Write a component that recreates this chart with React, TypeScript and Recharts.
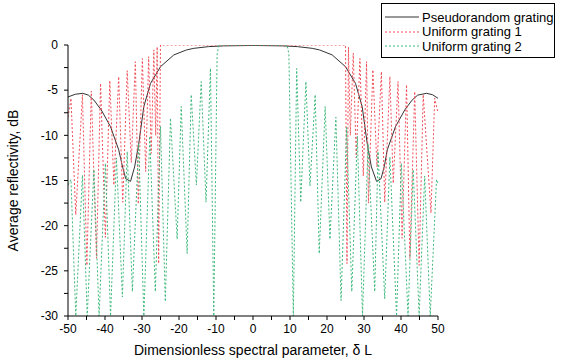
import { Label, Legend, Line, LineChart, XAxis, YAxis } from 'recharts';

// Chart size and fonts
const W = 562;
const H = 362;
const FONT = '"Liberation Sans", Arial, sans-serif';

// Axis ticks
const X_TICKS = [-50, -45, -40, -35, -30, -25, -20, -15, -10, -5, 0, 5, 10, 15, 20, 25, 30, 35, 40, 45, 50];
const Y_TICKS = [-30, -27.5, -25, -22.5, -20, -17.5, -15, -12.5, -10, -7.5, -5, -2.5, 0];

// Pseudorandom grating: [δL, dB]
const PSEUDO: [number, number][] = [
  [-50, -5.75], [-48, -5.45], [-46, -5.35], [-44.5, -5.55], [-43, -6.1], [-41, -7.2],
  [-38.5, -9.05], [-36.3, -11.6], [-35.3, -13.4], [-34.4, -14.8], [-33.1, -15.1], [-32, -13.5],
  [-30.9, -11], [-29.5, -6.8], [-27.7, -4.25], [-25, -2.4], [-21.4, -1.1], [-18, -0.55],
  [-16, -0.37], [-12, -0.18], [-8, -0.1], [0, -0.05],
  [8, -0.1], [12, -0.18], [16, -0.37], [18, -0.55], [21.4, -1.1], [25, -2.4],
  [27.7, -4.25], [29.5, -6.8], [30.9, -11], [32, -13.5], [33.4, -15.1], [34.6, -14.8],
  [35.5, -13.4], [36.3, -11.6], [38.5, -9.05], [41, -7.2], [43, -6.1], [44.5, -5.55],
  [46.9, -5.35], [48.5, -5.5], [50, -5.9],
];

// Uniform grating 1
const UNIFORM1: [number, number][] = [
  [-50, -8], [-49.2, -5.9], [-47.9, -18.8], [-46.1, -5.5], [-44.9, -24.4], [-43.7, -5.1],
  [-42.3, -23.6], [-41.2, -4.25], [-39.9, -21.3], [-38.7, -3.95], [-37.6, -15.5], [-36.3, -3.5],
  [-35.2, -17.4], [-34.0, -2.85], [-32.9, -13], [-31.8, -1.85], [-31.0, -17.6], [-29.9, -1.5],
  [-29.0, -14], [-28.2, -1.3], [-27.5, -12], [-26.8, -0.55], [-26.3, -10], [-25.9, -0.2],
  [-25.5, -24.2], [-25.0, 0], [25.0, 0], [25.4, -24.2], [25.8, -0.25], [26.3, -10],
  [27.1, -0.9], [27.9, -12.5], [28.9, -1.5], [29.8, -14.5], [30.7, -1.85], [31.2, -17.5],
  [32.4, -2.75], [33.5, -13.5], [34.7, -2.95], [35.6, -17.4], [37.0, -3.5], [37.9, -15.3],
  [39.2, -4.05], [40.3, -21.4], [41.5, -4.4], [42.4, -23.6], [43.7, -5.15], [44.9, -24.4],
  [46.0, -5.5], [48.1, -18.6], [49.1, -5.9], [50, -7.5],
];

// Uniform grating 2
const UNIFORM2: [number, number][] = [
  [-50, -15.5], [-49.2, -14.9], [-47.9, -30], [-46.1, -14.4], [-44.8, -30], [-43.0, -13.8],
  [-41.6, -30], [-39.9, -13.1], [-38.5, -30], [-36.9, -12.5], [-35.3, -27.9], [-34.0, -11.8],
  [-32.6, -27.3], [-30.9, -10.9], [-29.5, -30], [-27.9, -10.1], [-26.4, -27.3], [-25.0, -9.0],
  [-23.7, -28.4], [-22.3, -8.1], [-20.5, -21.5], [-19.4, -6.8], [-17.8, -23.1], [-16.7, -5.5],
  [-15.3, -15.5], [-14.0, -4.05], [-12.7, -17.4], [-11.5, -2.6], [-10.6, -30], [-9.7, -1.0],
  [-9.2, 0], [9.2, 0], [9.7, -1.0], [10.9, -30], [11.8, -2.6], [12.9, -17.4],
  [14.3, -4.05], [15.4, -15.6], [16.8, -5.5], [17.9, -23.1], [19.5, -6.8], [20.8, -21.5],
  [22.4, -8.0], [23.8, -28.3], [25.3, -9.1], [26.7, -27.3], [28.2, -10.1], [29.6, -30],
  [31.1, -10.9], [32.9, -27.3], [33.8, -11.8], [35.6, -28.1], [37.0, -12.4], [38.8, -30],
  [40.1, -13.1], [41.9, -30], [43.3, -13.8], [44.9, -30], [46.4, -14.5], [47.9, -30],
  [49.6, -14.9], [50, -15.3],
];

const SERIES = [
  { name: 'Pseudorandom grating', points: PSEUDO, color: '#333333', dash: undefined },
  { name: 'Uniform grating 1', points: UNIFORM1, color: '#f0505a', dash: '2 2' },
  { name: 'Uniform grating 2', points: UNIFORM2, color: '#3cb87c', dash: '2 2' },
];

const toRows = (pts: [number, number][]) => pts.map(([x, y]) => ({ x, y }));

function LegendBox() {
  return (
    <div
      style={{
        border: '1px solid #000',
        background: '#fff',
        width: 174,
        height: 55,
        boxSizing: 'border-box',
        paddingTop: 6,
        fontFamily: FONT,
        fontSize: 13,
        color: '#000',
      }}
    >
      {SERIES.map((s) => (
        <div key={s.name} style={{ display: 'flex', alignItems: 'center', height: 14.5 }}>
          <svg width={40} height={10} style={{ flex: 'none' }}>
            <line x1={3} y1={5} x2={37} y2={5} stroke={s.color} strokeWidth={1} strokeDasharray={s.dash} />
          </svg>
          <span style={{ whiteSpace: 'nowrap' }}>{s.name}</span>
        </div>
      ))}
    </div>
  );
}

export default function App() {
  return (
    <div style={{ position: 'absolute', left: 0, top: 0, width: W, height: H, background: '#fff' }}>
      <LineChart width={W} height={H} margin={{ top: 45, right: 124, bottom: 0, left: 0 }}>
        <XAxis
          type="number"
          dataKey="x"
          domain={[-50, 50]}
          ticks={X_TICKS}
          allowDataOverflow
          interval={0}
          tickFormatter={(v: number) => (v % 10 === 0 ? String(v) : '')}
          height={46}
          tickSize={4}
          tickMargin={4}
          axisLine={{ stroke: '#000' }}
          tickLine={{ stroke: '#000' }}
          tick={{ fill: '#000', fontSize: 12, fontFamily: FONT }}
        >
          <Label
            value="Dimensionless spectral parameter, δ L"
            position="insideBottom"
            offset={7}
            style={{ fill: '#000', fontSize: 14, fontFamily: FONT }}
          />
        </XAxis>
        <YAxis
          type="number"
          dataKey="y"
          domain={[-30, 0]}
          ticks={Y_TICKS}
          allowDataOverflow
          interval={0}
          tickFormatter={(v: number) => (v % 5 === 0 ? String(v) : '')}
          width={68}
          tickSize={4}
          tickMargin={6}
          axisLine={{ stroke: '#000' }}
          tickLine={{ stroke: '#000' }}
          tick={{ fill: '#000', fontSize: 12, fontFamily: FONT }}
        >
          <Label
            value="Average reflectivity, dB"
            angle={-90}
            position="center"
            dx={-21}
            style={{ fill: '#000', fontSize: 14, fontFamily: FONT, textAnchor: 'middle' }}
          />
        </YAxis>
        {SERIES.map((s) => (
          <Line
            key={s.name}
            data={toRows(s.points)}
            dataKey="y"
            name={s.name}
            type="linear"
            stroke={s.color}
            strokeWidth={1}
            strokeDasharray={s.dash}
            dot={false}
            activeDot={false}
            isAnimationActive={false}
          />
        ))}
        <Legend
          layout="vertical"
          align="center"
          verticalAlign="middle"
          content={() => <LegendBox />}
          wrapperStyle={{ position: 'absolute', left: 381, top: 3, width: 174 }}
        />
      </LineChart>
    </div>
  );
}
